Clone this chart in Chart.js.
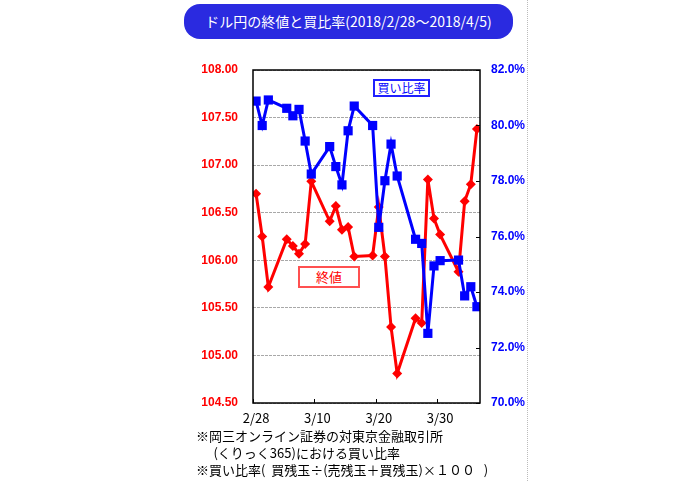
<!DOCTYPE html>
<html lang="ja">
<head>
<meta charset="UTF-8">
<title>ドル円の終値と買比率</title>
<script src="https://cdn.jsdelivr.net/npm/chart.js@4"></script>
<style>
    body { margin: 0; background: #fff; font-family: "Noto Sans CJK JP", sans-serif; }
    #wrap { position: relative; width: 700px; height: 481px; }
    #chart { position: absolute; left: 0; top: 0; }
    #title {
        position: absolute; left: 184px; top: 4px; width: 329px; height: 35px;
        background: #2a2ae0; border-radius: 16px; color: #fff;
        font-size: 14px; line-height: 35px; text-align: center;
    }
    .box { position: absolute; background: #fff; text-align: center; font-size: 12px; }
    #buyBox { left: 373px; top: 79px; width: 53px; height: 14px; line-height: 14px; border: 2px solid #2020ff; color: #0000ff; }
    #closeBox { left: 298px; top: 266px; width: 58px; height: 18px; line-height: 18px; border: 2px solid #ff5050; color: #ff0000; font-size: 13px; }
    #note { position: absolute; left: 196px; top: 427px; font-size: 13px; line-height: 17px; color: #000; white-space: pre; }
    #vline { position: absolute; left: 527px; top: 0; height: 481px; border-left: 1px dotted #bbb; }
</style>
</head>
<body>
<div id="wrap">
    <canvas id="chart" width="700" height="481"></canvas>
    <div id="title">ドル円の終値と買比率(2018/2/28～2018/4/5)</div>
    <div id="buyBox" class="box">買い比率</div>
    <div id="closeBox" class="box">終値</div>
    <div id="vline"></div>
    <div id="note">※岡三オンライン証券の対東京金融取引所
      (くりっく365)における買い比率
※買い比率(  買残玉÷(売残玉＋買残玉)×１００   )</div>
</div>

<script>
    // 取引日
    const dates = ['2/28', '3/1', '3/2', '3/5', '3/6', '3/7', '3/8', '3/9',
        '3/12', '3/13', '3/14', '3/15', '3/16', '3/19', '3/20', '3/21', '3/22', '3/23',
        '3/26', '3/27', '3/28', '3/29', '3/30', '4/2', '4/3', '4/4', '4/5'];
    // ドル円終値
    const closeValues = [106.70, 106.25, 105.72, 106.22, 106.15, 106.07, 106.17, 106.83,
        106.41, 106.57, 106.32, 106.35, 106.04, 106.05, 106.56, 106.04, 105.30, 104.81,
        105.39, 105.34, 106.85, 106.44, 106.27, 105.88, 106.62, 106.80, 107.38];
    // 買い比率 (%)
    const buyRatio = [80.88, 80.00, 80.92, 80.62, 80.35, 80.58, 79.44, 78.25,
        79.24, 78.52, 77.86, 79.81, 80.70, 80.00, 76.33, 78.01, 79.33, 78.18,
        75.90, 75.75, 72.51, 74.94, 75.13, 75.15, 73.86, 74.19, 73.47];
    const xTickLabels = ['2/28', '3/10', '3/20', '3/30'];

    // 2/28 からの日数 (2018年)
    function dayOffset(s) {
        const [m, d] = s.split('/').map(Number);
        if (m === 2) return d - 28;
        if (m === 3) return d;
        return 31 + d;
    }

    const xTickDays = xTickLabels.map(dayOffset);

    const frame = {
        id: 'frame',
        afterDraw(chart) {
            const { ctx, chartArea: a, scales } = chart;
            ctx.save();
            ctx.strokeStyle = '#000';
            ctx.lineWidth = 1.5;
            ctx.strokeRect(a.left, a.top, a.right - a.left, a.bottom - a.top);
            ctx.lineWidth = 1;
            ctx.beginPath();
            // 日付の区切りに目盛り
            xTickDays.forEach(d => {
                const x = Math.round(scales.x.getPixelForValue(d - 0.5)) + 0.5;
                ctx.moveTo(x, a.bottom);
                ctx.lineTo(x, a.bottom - 4);
            });
            scales.y1.ticks.forEach(t => {
                const y = Math.round(scales.y1.getPixelForValue(t.value)) + 0.5;
                ctx.moveTo(a.right, y);
                ctx.lineTo(a.right - 4, y);
            });
            ctx.stroke();
            ctx.restore();
        }
    };

    new Chart(document.getElementById('chart'), {
        type: 'line',
        data: {
            datasets: [{
                label: '買い比率',
                data: dates.map((d, i) => ({ x: dayOffset(d), y: buyRatio[i] })),
                yAxisID: 'y1',
                borderColor: '#0000ff',
                backgroundColor: '#0000ff',
                borderWidth: 3,
                pointStyle: 'rect',
                pointRadius: 6.5,
                pointBorderWidth: 0,
                tension: 0,
                order: 0
            }, {
                label: '終値',
                data: dates.map((d, i) => ({ x: dayOffset(d), y: closeValues[i] })),
                yAxisID: 'y',
                borderColor: '#ff0000',
                backgroundColor: '#ff0000',
                borderWidth: 3,
                pointStyle: 'rectRot',
                pointRadius: 5,
                pointBorderWidth: 0,
                tension: 0,
                order: 1
            }]
        },
        options: {
            responsive: false,
            animation: false,
            layout: { padding: { top: 70, left: 0, right: 0, bottom: 0 } },
            plugins: { legend: { display: false }, tooltip: { enabled: false } },
            scales: {
                x: {
                    type: 'linear',
                    min: -0.5,
                    max: 36.5,
                    afterFit: s => { s.height = 78; },
                    afterBuildTicks: s => { s.ticks = xTickDays.map(v => ({ value: v })); },
                    grid: { display: false, drawTicks: false },
                    border: { display: false },
                    ticks: {
                        padding: 7,
                        maxRotation: 0,
                        autoSkip: false,
                        color: '#000',
                        font: { family: '"Noto Sans CJK JP"', size: 13 },
                        callback: v => xTickLabels[xTickDays.indexOf(v)]
                    }
                },
                y: {
                    position: 'left',
                    min: 104.5,
                    max: 108,
                    afterFit: s => { s.width = 253; },
                    grid: { color: '#a8a8a8', lineWidth: 1, drawTicks: false },
                    border: { display: false, dash: [3, 1] },
                    ticks: {
                        stepSize: 0.5,
                        padding: 15,
                        color: '#ff0000',
                        font: { family: 'Arial', size: 12, weight: 'bold' },
                        callback: v => v.toFixed(2)
                    }
                },
                y1: {
                    position: 'right',
                    min: 70,
                    max: 82,
                    afterFit: s => { s.width = 220; },
                    grid: { display: false, drawTicks: false },
                    border: { display: false },
                    ticks: {
                        stepSize: 2,
                        padding: 11,
                        color: '#0000ff',
                        font: { family: 'Arial', size: 12, weight: 'bold' },
                        callback: v => v.toFixed(1) + '%'
                    }
                }
            }
        },
        plugins: [frame]
    });
</script>
</body>
</html>
